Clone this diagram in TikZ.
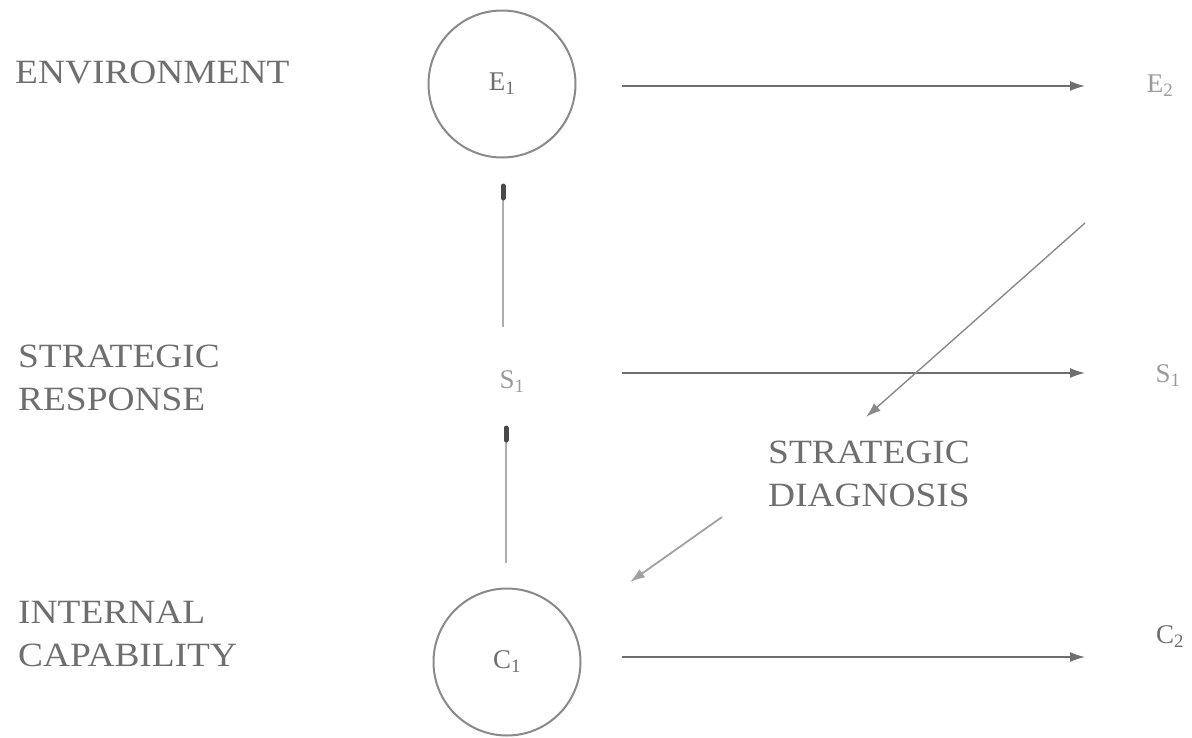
\documentclass[tikz,border=0pt]{standalone}
\usepackage{fontspec}
\setmainfont{Liberation Serif}
\newfontfamily\widefont{Liberation Serif}[FakeStretch=1.1]
\usetikzlibrary{arrows.meta}
\definecolor{txt}{HTML}{6E6E6E}
\definecolor{lt}{HTML}{9A9A9A}
\definecolor{ln}{HTML}{8A8A8A}
\definecolor{dk}{HTML}{4A4A4A}
\begin{document}
\begin{tikzpicture}[x=1pt,y=-1pt,
  bigtext/.style={text=txt,font=\widefont\fontsize{34}{43}\selectfont,align=left,inner sep=0pt},
  midtext/.style={text=txt,font=\widefont\fontsize{34}{43}\selectfont,align=center,inner sep=0pt},
  sym/.style={text=txt,font=\fontsize{27}{30}\selectfont,inner sep=0pt},
  ring/.style={circle,draw=ln,line width=2pt,minimum size=147pt,inner sep=0pt},
  arr/.style={draw=dk!80,line width=1.4pt,-{Latex[length=15pt,width=10pt]}},
  vline/.style={draw=ln!70,line width=2pt},
  vcap/.style={draw=dk,line width=5pt,line cap=round}]
\useasboundingbox (0,0) rectangle (1192,737);
% left labels
\node[bigtext,anchor=west] (env) at (15,72) {ENVIRONMENT};
\node[bigtext,anchor=west] (sr) at (18,378) {STRATEGIC\\RESPONSE};
\node[bigtext,anchor=west] (ic) at (18,634) {INTERNAL\\CAPABILITY};
% circles and symbols
\node[ring] (E1) at (502,84) {};
\node[sym] (E1t) at (E1) {E\textsubscript{1}};
\node[ring] (C1) at (507,662) {};
\node[sym] (C1t) at (C1) {C\textsubscript{1}};
\node[sym,text=lt] (S1) at (512,382) {S\textsubscript{1}};
\node[sym,text=lt] (E2) at (1160,86) {E\textsubscript{2}};
\node[sym,text=lt] (S2) at (1168,376) {S\textsubscript{1}};
\node[sym] (C2) at (1170,637) {C\textsubscript{2}};
\node[midtext] (sd) at (869,474) {STRATEGIC\\DIAGNOSIS};
% connector ends
\coordinate (ea) at (622,86);
\coordinate (eb) at (1085,86);
\coordinate (sa) at (622,373);
\coordinate (sb) at (1085,373);
\coordinate (ca) at (622,657);
\coordinate (cb) at (1085,657);
\coordinate (da) at (1085,223);
\coordinate (db) at (866,417);
\coordinate (ga) at (722,517);
\coordinate (gb) at (630,582);
\coordinate (u1) at (503,186);
\coordinate (u2) at (503,327);
\coordinate (l1) at (506,428);
\coordinate (l2) at (506,563);
% horizontal arrows
\draw[arr] (ea) -- (eb);
\draw[arr] (sa) -- (sb);
\draw[arr] (ca) -- (cb);
% diagonal arrows
\draw[arr,draw=ln] (da) -- (db);
\draw[arr,draw=ln!80,line width=1.8pt] (ga) -- (gb);
% vertical links
\draw[vline] (u1) -- (u2);
\draw[vcap] (u1) -- ++(0,12);
\draw[vline] (l1) -- (l2);
\draw[vcap] (l1) -- ++(0,12);
\end{tikzpicture}
\end{document}
